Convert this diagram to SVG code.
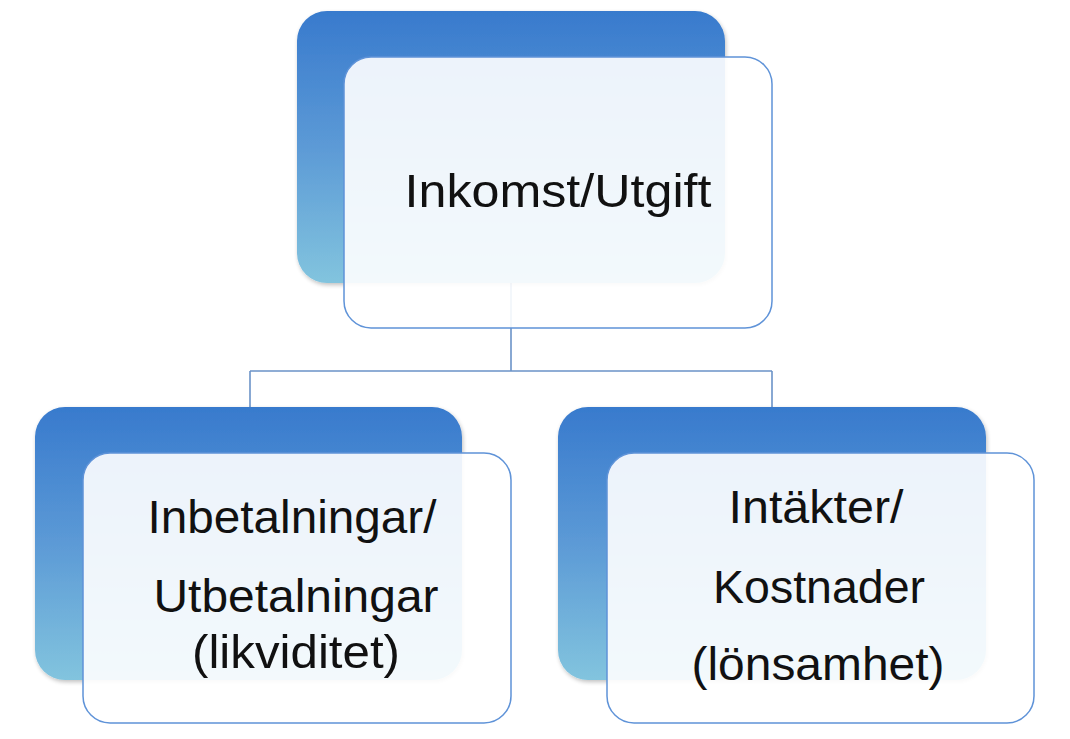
<svg xmlns="http://www.w3.org/2000/svg" width="1070" height="739" viewBox="0 0 1070 739">
  <defs>
    <linearGradient id="blueGrad" x1="0" y1="0" x2="0" y2="1">
      <stop offset="0" stop-color="#387acd"/>
      <stop offset="0.5" stop-color="#5c9ad6"/>
      <stop offset="1" stop-color="#82c4de"/>
    </linearGradient>
    <filter id="shadow" x="-5%" y="-5%" width="115%" height="115%">
      <feGaussianBlur in="SourceAlpha" stdDeviation="2"/>
      <feOffset dx="1" dy="2"/>
      <feComponentTransfer><feFuncA type="linear" slope="0.25"/></feComponentTransfer>
      <feMerge><feMergeNode/><feMergeNode in="SourceGraphic"/></feMerge>
    </filter>
  </defs>
  <style>
    .back { fill: url(#blueGrad); filter: url(#shadow); }
    .front { fill: #ffffff; fill-opacity: 0.9; stroke: #5f93d8; stroke-width: 1.5; }
    .conn { fill: none; stroke: #6b93c8; stroke-width: 1.6; }
    .lbl { font-family: "Liberation Sans", Arial, sans-serif; font-size: 47px; fill: #111111; text-anchor: middle; }
  </style>
  <rect width="1070" height="739" fill="#ffffff"/>

  <g id="connectors">
    <path class="conn" d="M511,283 V371 M250,371 H772 M250,371 V408 M772,371 V408"/>
  </g>

  <g id="node-top">
    <rect class="back" x="297" y="11" width="428" height="272" rx="30"/>
    <rect class="front" x="344" y="57" width="428" height="271" rx="27"/>
    <text class="lbl" x="558" y="207" textLength="307" lengthAdjust="spacingAndGlyphs">Inkomst/Utgift</text>
  </g>

  <g id="node-left">
    <rect class="back" x="35" y="407" width="427" height="273" rx="30"/>
    <rect class="front" x="83" y="453" width="428" height="270" rx="27"/>
    <text class="lbl" x="292" y="533" textLength="289" lengthAdjust="spacingAndGlyphs">Inbetalningar/</text>
    <text class="lbl" x="296" y="612" textLength="285" lengthAdjust="spacingAndGlyphs">Utbetalningar</text>
    <text class="lbl" x="296" y="668" textLength="208" lengthAdjust="spacingAndGlyphs">(likviditet)</text>
  </g>

  <g id="node-right">
    <rect class="back" x="558" y="407" width="428" height="273" rx="30"/>
    <rect class="front" x="607" y="453" width="427" height="270" rx="27"/>
    <text class="lbl" x="816" y="523" textLength="175" lengthAdjust="spacingAndGlyphs">Intäkter/</text>
    <text class="lbl" x="819" y="603" textLength="212" lengthAdjust="spacingAndGlyphs">Kostnader</text>
    <text class="lbl" x="818" y="680" textLength="253" lengthAdjust="spacingAndGlyphs">(lönsamhet)</text>
  </g>
</svg>
